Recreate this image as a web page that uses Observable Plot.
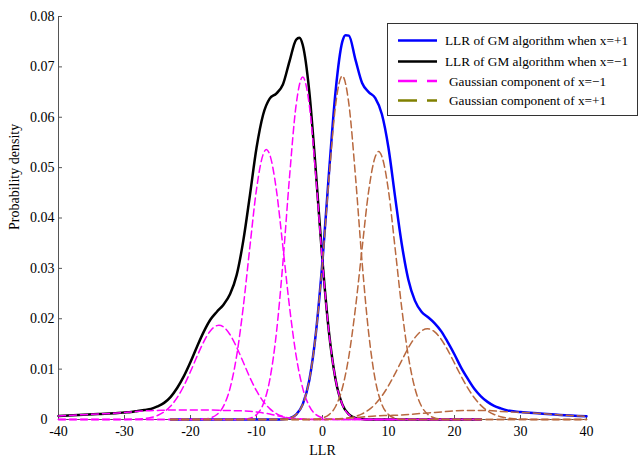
<!DOCTYPE html>
<html><head><meta charset="utf-8">
<script src="https://cdn.jsdelivr.net/npm/d3@7"></script>
<script src="https://cdn.jsdelivr.net/npm/@observablehq/plot@0.6"></script>
<style>
html,body{margin:0;padding:0;background:#fff;}
#wrap{position:relative;width:640px;height:458px;font-family:"Liberation Serif","Times New Roman",serif;}
#legend{position:absolute;left:387px;top:23px;}
</style></head><body><div id="wrap"></div>
<script>
// ---- axis ticks ----
const xTicks = [-40, -30, -20, -10, 0, 10, 20, 30, 40];
const yTicks = [0.01, 0.02, 0.03, 0.04, 0.05, 0.06, 0.07, 0.08];
const yTickLabels = ["0.01", "0.02", "0.03", "0.04", "0.05", "0.06", "0.07", "0.08"];
const yZeroTick = [0];
const yZeroLabel = "0";

// ---- LLR of GM algorithm when x=-1 (black) ----
const blackX = [-40,-37,-34,-31,-30,-29,-28,-27,-26,-25,-24,-23,-22,-21,-20,-19,-18,-17,-16,-15,-14,-13,-12,-11,-10,-9,-8,-7,-6,-5,-4,-3.5,-3,-2,-1,0,1,2,3,4,5,6,7,24];
const blackY = [0.0007,0.0009,0.0011,0.0013,0.0014,0.0015,0.0017,0.0019,0.0021,0.0026,0.0033,0.0045,0.0063,0.0086,0.0114,0.0145,0.0174,0.0198,0.0214,0.0228,0.0249,0.0287,0.0355,0.0445,0.0539,0.0605,0.0637,0.0647,0.0665,0.0711,0.0754,0.0758,0.0744,0.0651,0.0491,0.0314,0.0171,0.0078,0.0030,0.0010,0.0003,0.0001,0,0];

// ---- LLR of GM algorithm when x=+1 (blue) ----
const blueX = [-23,-8,-7,-6,-5,-4,-3,-2,-1,0,1,2,3,3.5,4,5,6,7,8,9,10,11,12,13,14,15,16,17,18,19,20,21,22,23,24,25,26,27,28,30,33,36,40];
const blueY = [0,0,0.00001,0.00006,0.00026,0.00097,0.0030,0.0078,0.0172,0.0315,0.0493,0.0654,0.0750,0.0763,0.0762,0.0714,0.0668,0.0650,0.0638,0.0606,0.0539,0.0442,0.0349,0.0278,0.0236,0.0214,0.0203,0.0191,0.0175,0.0153,0.0129,0.0103,0.0081,0.0061,0.0046,0.0035,0.0027,0.0022,0.0018,0.0015,0.0012,0.0009,0.00065];

// ---- Gaussian components of x=-1 (magenta) ----
const mAX = [-40,-13,-12,-11,-10,-9,-8,-7,-6,-5,-4,-3,-2,-1,0,1,2,3,4,5,6,7,24];
const mAY = [0,0,0.00006,0.00026,0.00097,0.0030,0.0078,0.0170,0.0311,0.0481,0.0624,0.0680,0.0624,0.0481,0.0311,0.0170,0.0078,0.0030,0.00097,0.00026,0.00006,0,0];
const mBX = [-40,-20,-19,-18,-17,-16,-15,-14,-13,-12,-11,-10,-9,-8.5,-8,-7,-6,-5,-4,-3,-2,-1,0,1,2,3,24];
const mBY = [0,0,0.00002,0.00009,0.00031,0.00098,0.00265,0.00624,0.0127,0.0224,0.0343,0.0457,0.0526,0.0536,0.0526,0.0457,0.0343,0.0224,0.0127,0.00624,0.00265,0.00098,0.00031,0.00009,0.00002,0,0];
const mCX = [-40,-31,-30,-29,-28,-27,-26,-25,-24,-23,-22,-21,-20,-19,-18,-17,-16,-15.7,-15,-14,-13,-12,-11,-10,-9,-8,-7,-6,-5,-4,-3,-2,-1,24];
const mCY = [0,0,0.00001,0.00003,0.00007,0.00018,0.00039,0.0008,0.00151,0.00267,0.00439,0.0067,0.00952,0.01256,0.01541,0.01758,0.01864,0.0187,0.01837,0.01683,0.01433,0.01135,0.00834,0.00571,0.00363,0.00215,0.00118,0.0006,0.00029,0.00013,0.00005,0.00002,0,0];
const mDX = [-40,-37,-34,-31,-29,-27,-25,-22,-20,-17,-15,-12,-10,-9,-8,-7,-6,-5,-4,-3,-2,0,24];
const mDY = [0.0007,0.0009,0.0011,0.0013,0.0015,0.0017,0.0018,0.0019,0.0019,0.0019,0.0018,0.0017,0.0015,0.0013,0.0011,0.0008,0.0005,0.0003,0.0002,0.0001,0.00005,0,0];

// ---- Gaussian components of x=+1 (brown) ----
const bAX = [-23,-7,-6,-5,-4,-3,-2,-1,0,1,2,3,4,5,6,7,8,9,10,11,12,13,40];
const bAY = [0,0,0.00006,0.00026,0.00097,0.0030,0.0078,0.0171,0.0312,0.0482,0.0626,0.0682,0.0626,0.0482,0.0312,0.0171,0.0078,0.0030,0.00097,0.00026,0.00006,0,0];
const bBX = [-23,-3,-2,-1,0,1,2,3,4,5,6,7,8,8.5,9,10,11,12,13,14,15,16,17,18,19,20,40];
const bBY = [0,0,0.00002,0.00009,0.00031,0.00097,0.00263,0.0062,0.0126,0.0222,0.0340,0.0454,0.0522,0.0532,0.0522,0.0454,0.0340,0.0222,0.0126,0.0062,0.00263,0.00097,0.00031,0.00009,0.00002,0,0];
const bCX = [-23,0,1,2,3,4,5,6,7,8,9,10,11,12,13,14,15,15.9,17,18,19,20,21,22,23,24,25,26,27,28,29,30,31,32,40];
const bCY = [0,0,0.00003,0.00008,0.00016,0.00033,0.00062,0.00112,0.00191,0.00307,0.00467,0.00671,0.00912,0.0117,0.01419,0.01625,0.01759,0.0180,0.01739,0.01589,0.01371,0.01118,0.00862,0.00628,0.00432,0.00281,0.00172,0.0010,0.00055,0.00028,0.00014,0.00007,0.00003,0,0];
const bDX = [-23,0,2,4,6,8,10,12,14,16,18,20,22,25,27,30,33,36,40];
const bDY = [0,0,0.0001,0.0003,0.0005,0.0007,0.0008,0.0009,0.0011,0.0013,0.0015,0.0017,0.0018,0.0018,0.0016,0.0014,0.0012,0.0009,0.00065];

// ---- legend ----
const legendLabels = ["LLR of GM algorithm when x=+1", "LLR of GM algorithm when x=\u22121", "Gaussian component of x=\u22121", "Gaussian component of x=+1"];
const legendColors = ["#0000ff", "#000000", "#ff00ff", "#808000"];
const legendDashed = [false, false, true, true];

const MAGENTA = "#ff00ff", BROWN = "#b8693f";
const rows = (xs, ys) => xs.map((x, i) => ({x, y: ys[i]}));
const solid = (xs, ys, color) => Plot.line(rows(xs, ys), {x: "x", y: "y", stroke: color, strokeWidth: 2.5, curve: "monotone-x"});
const dashed = (xs, ys, color) => Plot.line(rows(xs, ys), {x: "x", y: "y", stroke: color, strokeWidth: 1.5, strokeDasharray: "7,4", curve: "monotone-x"});

const chart = Plot.plot({
  width: 640, height: 458,
  marginLeft: 58, marginRight: 54, marginTop: 16, marginBottom: 39,
  style: {fontFamily: '"Liberation Serif", "Times New Roman", serif', fontSize: "14px", background: "white", color: "black"},
  x: {domain: [-40, 40]},
  y: {domain: [0, 0.08]},
  marks: [
    Plot.ruleX([-40], {stroke: "#555"}),
    Plot.ruleY([0], {stroke: "#555"}),
    Plot.axisX({ticks: xTicks, tickSize: -4, tickPadding: 11, stroke: "#555", fill: "black", label: null, tickFormat: d => String(d)}),
    Plot.axisY({ticks: yTicks, tickSize: -4, tickPadding: 8, stroke: "#555", fill: "black", label: null, tickFormat: d => yTickLabels[yTicks.indexOf(d)]}),
    Plot.axisY({ticks: yZeroTick, tickSize: -4, tickPadding: 15, stroke: "#555", fill: "black", label: null, tickFormat: () => yZeroLabel}),
    solid(blackX, blackY, "black"),
    solid(blueX, blueY, "#0000ff"),
    dashed(mDX, mDY, MAGENTA),
    dashed(mCX, mCY, MAGENTA),
    dashed(mBX, mBY, MAGENTA),
    dashed(mAX, mAY, MAGENTA),
    dashed(bDX, bDY, BROWN),
    dashed(bCX, bCY, BROWN),
    dashed(bBX, bBY, BROWN),
    dashed(bAX, bAY, BROWN),
    Plot.text(["LLR"], {frameAnchor: "bottom", dy: 31, lineAnchor: "middle", fontSize: 14, fill: "black"}),
    Plot.text(["Probability density"], {frameAnchor: "left", rotate: -90, dx: -44, dy: 12, lineAnchor: "middle", fontSize: 14, fill: "black"})
  ]
});
const wrap = document.getElementById("wrap");
wrap.appendChild(chart);

// legend box
const ns = "http://www.w3.org/2000/svg";
const lg = document.createElementNS(ns, "svg");
lg.setAttribute("id", "legend");
lg.setAttribute("width", 252); lg.setAttribute("height", 93);
lg.style.fontFamily = '"Liberation Serif", "Times New Roman", serif';
const rect = document.createElementNS(ns, "rect");
rect.setAttribute("x", 0.5); rect.setAttribute("y", 0.5); rect.setAttribute("width", 250); rect.setAttribute("height", 92);
rect.setAttribute("fill", "white"); rect.setAttribute("stroke", "#333"); rect.setAttribute("stroke-width", 1);
lg.appendChild(rect);
const rowY = [17.5, 38.5, 58, 77.5];
legendLabels.forEach((lab, i) => {
  const ln = document.createElementNS(ns, "line");
  ln.setAttribute("x1", 11); ln.setAttribute("x2", 50);
  ln.setAttribute("y1", rowY[i]); ln.setAttribute("y2", rowY[i]);
  ln.setAttribute("stroke", legendColors[i]); ln.setAttribute("stroke-width", 2.5);
  if (legendDashed[i]) ln.setAttribute("stroke-dasharray", "19,10");
  lg.appendChild(ln);
  const t = document.createElementNS(ns, "text");
  t.setAttribute("x", legendDashed[i] ? 62 : 58);
  t.setAttribute("y", rowY[i]);
  t.setAttribute("dy", "0.35em");
  t.setAttribute("font-size", 13.3);
  t.textContent = lab;
  lg.appendChild(t);
});
wrap.appendChild(lg);
</script></body></html>
